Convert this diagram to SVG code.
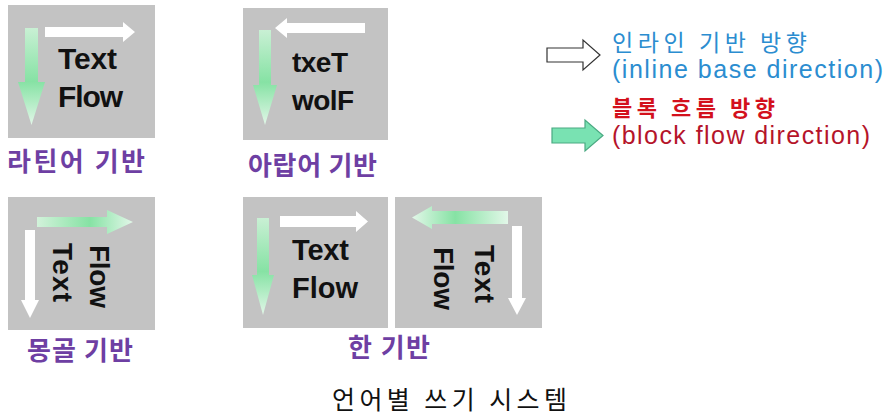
<svg xmlns="http://www.w3.org/2000/svg" width="887" height="416" viewBox="0 0 887 416">
<style>
.box{fill:#c3c3c3}
.tx{font-family:"Liberation Sans",Arial,sans-serif;font-weight:bold;fill:#111}
.wa{fill:#ffffff}
.lbl{font-family:"Noto Sans CJK KR","Noto Sans",sans-serif;font-weight:bold;fill:#6e3fa3;font-size:26px;text-anchor:middle}
.ttl{font-family:"Noto Sans CJK KR","Noto Sans",sans-serif;fill:#111;font-size:25px;text-anchor:middle}
.blue{fill:#2b8dd0}
</style>
<defs>
<linearGradient id="gDown" x1="0" y1="0" x2="0" y2="1">
<stop offset="0" stop-color="#c9f0d4"/>
<stop offset="0.55" stop-color="#86e2a4"/>
<stop offset="1" stop-color="#e2f7e8"/>
</linearGradient>
<linearGradient id="gRight" x1="0" y1="0" x2="1" y2="0">
<stop offset="0" stop-color="#d2f2da"/>
<stop offset="0.55" stop-color="#86e2a4"/>
<stop offset="1" stop-color="#e2f7e8"/>
</linearGradient>
<linearGradient id="gLeft" x1="1" y1="0" x2="0" y2="0">
<stop offset="0" stop-color="#e2f7e8"/>
<stop offset="0.55" stop-color="#86e2a4"/>
<stop offset="1" stop-color="#e2f7e8"/>
</linearGradient>
</defs>

<g id="latin">
<rect class="box" x="8" y="5" width="147" height="133"/>
<path d="M25,28 H38 V82 H45 L31.5,125 L18,82 H25 Z" fill="url(#gDown)"/>
<path class="wa" d="M45,27 H123 V22 L135,32 L123,42 V37 H45 Z"/>
<text class="tx" x="58" y="69" font-size="30" textLength="59">Text</text>
<text class="tx" x="58" y="107" font-size="30" textLength="65">Flow</text>
<text class="lbl" x="76" y="171" textLength="138">라틴어 기반</text>
</g>

<g id="arabic">
<rect class="box" x="243" y="8" width="145" height="132"/>
<path class="wa" d="M365,23 H287 V18 L275,28 L287,38 V33 H365 Z"/>
<path d="M259,30 H271 V85 H277 L265,125 L253,85 H259 Z" fill="url(#gDown)"/>
<text class="tx" x="292" y="72" font-size="28" textLength="56">txeT</text>
<text class="tx" x="292" y="110" font-size="28" textLength="62">wolF</text>
<text class="lbl" x="312.5" y="175" textLength="129">아랍어 기반</text>
</g>

<g id="mongolian">
<rect class="box" x="8" y="197" width="147" height="133"/>
<path d="M37,217 H107 V210 L133,222 L107,234 V227 H37 Z" fill="url(#gRight)"/>
<path class="wa" d="M25,230 H35 V300 H39 L30,318 L21,300 H25 Z"/>
<text class="tx" font-size="28" transform="translate(53,243) rotate(90)" textLength="59">Text</text>
<text class="tx" font-size="28" transform="translate(90,245) rotate(90)" textLength="63">Flow</text>
<text class="lbl" x="80" y="360" textLength="106">몽골 기반</text>
</g>

<g id="han-horizontal">
<rect class="box" x="243" y="197" width="145" height="131"/>
<path d="M257,218 H269 V275 H274 L263,315 L252,275 H257 Z" fill="url(#gDown)"/>
<path class="wa" d="M280,216 H356 V211 L368,221.5 L356,232 V227 H280 Z"/>
<text class="tx" x="292" y="260" font-size="29" textLength="57">Text</text>
<text class="tx" x="292" y="298" font-size="29" textLength="66">Flow</text>
</g>

<g id="han-vertical">
<rect class="box" x="395" y="197" width="147" height="131"/>
<path d="M508,211 H432 V206 L412,217.5 L432,229 V224 H508 Z" fill="url(#gLeft)"/>
<path class="wa" d="M512,226 H522 V298 H526 L517,315 L508,298 H512 Z"/>
<text class="tx" font-size="28" transform="translate(475,245) rotate(90)" textLength="58">Text</text>
<text class="tx" font-size="28" transform="translate(434,247) rotate(90)" textLength="63">Flow</text>
</g>

<g id="han-label">
<text class="lbl" x="389" y="357" textLength="82">한 기반</text>
</g>

<g id="legend-inline">
<path d="M547,48 H583 V40 L600,55 L583,70 V62 H547 Z" fill="#ffffff" stroke="#333" stroke-width="1.2"/>
<text class="blue" x="612" y="51" font-size="23" textLength="195" font-family="Noto Sans CJK KR, sans-serif">인라인 기반 방향</text>
<text class="blue" x="612" y="78" font-size="25" textLength="271" font-family="Liberation Sans, Arial, sans-serif">(inline base direction)</text>
</g>

<g id="legend-block">
<path d="M552,128 H585 V120 L603,135.5 L585,151 V143 H552 Z" fill="#79e2b2" stroke="#4aa982" stroke-width="1.2"/>
<text x="612" y="116" font-size="22" font-weight="bold" fill="#d3101c" textLength="163" font-family="Noto Sans CJK KR, sans-serif">블록 흐름 방향</text>
<text x="612" y="144" font-size="25" fill="#b5142a" textLength="258" font-family="Liberation Sans, Arial, sans-serif">(block flow direction)</text>
</g>

<g id="title">
<text class="ttl" x="449.5" y="409" textLength="235">언어별 쓰기 시스템</text>
</g>
</svg>
